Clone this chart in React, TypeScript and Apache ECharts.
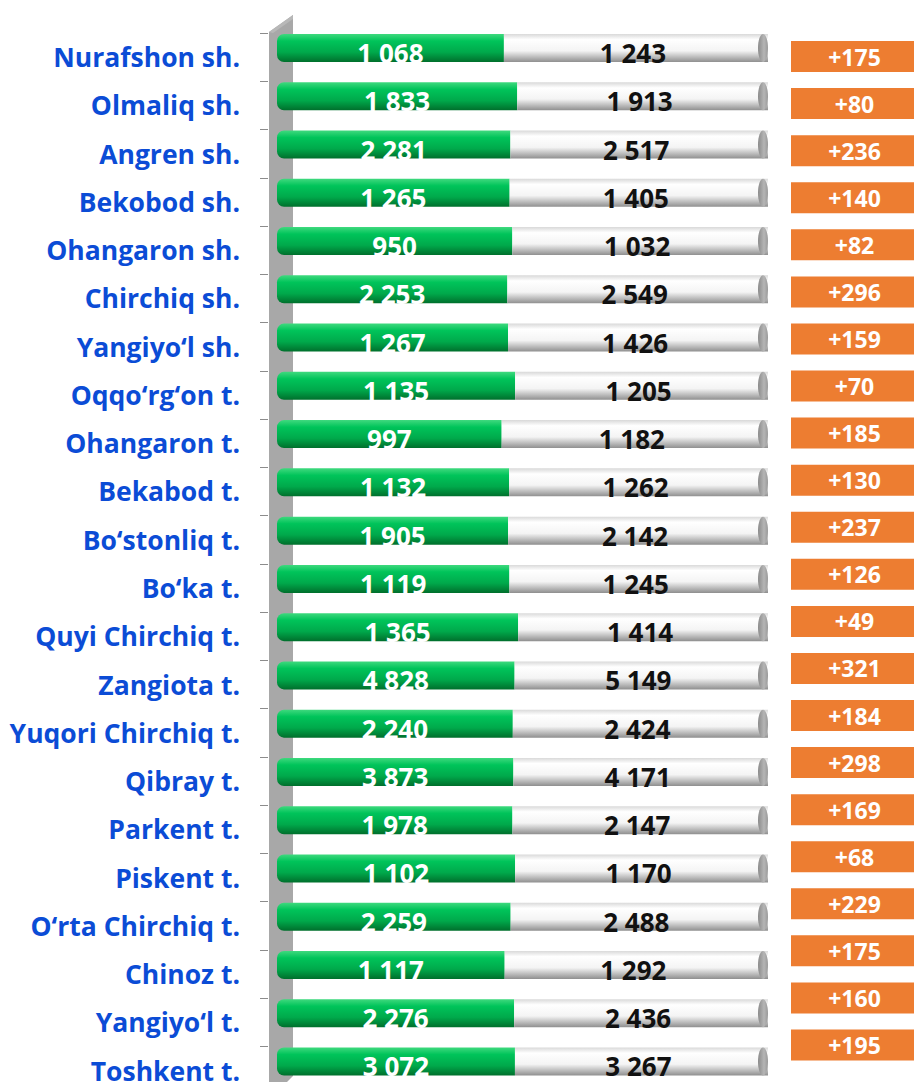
import React, { useEffect, useRef } from "react";
import * as echarts from "echarts";

const categories = [
  "Nurafshon sh.", "Olmaliq sh.", "Angren sh.", "Bekobod sh.", "Ohangaron sh.", "Chirchiq sh.",
  "Yangiyo‘l sh.", "Oqqo‘rg‘on t.", "Ohangaron t.", "Bekabod t.", "Bo‘stonliq t.", "Bo‘ka t.",
  "Quyi Chirchiq t.", "Zangiota t.", "Yuqori Chirchiq t.", "Qibray t.", "Parkent t.", "Piskent t.",
  "O‘rta Chirchiq t.", "Chinoz t.", "Yangiyo‘l t.", "Toshkent t.",
];
const before = [1068, 1833, 2281, 1265, 950, 2253, 1267, 1135, 997, 1132, 1905, 1119, 1365, 4828, 2240, 3873, 1978, 1102, 2259, 1117, 2276, 3072];
const after = [1243, 1913, 2517, 1405, 1032, 2549, 1426, 1205, 1182, 1262, 2142, 1245, 1414, 5149, 2424, 4171, 2147, 1170, 2488, 1292, 2436, 3267];
const growth = [175, 80, 236, 140, 82, 296, 159, 70, 185, 130, 237, 126, 49, 321, 184, 298, 169, 68, 229, 175, 160, 195];

const fmt = (v: number) => String(v).replace(/\B(?=(\d{3})+(?!\d))/g, " ");
const FONT = "'Open Sans', 'Noto Sans', sans-serif";

export default function App() {
  const ref = useRef<HTMLDivElement>(null);
  useEffect(() => {
    if (!ref.current) return;
    const chart = echarts.init(ref.current, null, { renderer: "svg" });
    const band = 48.26;
    const n = categories.length;
    const greenShare = before.map((v, i) => v / (v + after[i]));
    const whiteShare = after.map((v, i) => v / (before[i] + v));

    const greenGrad = new echarts.graphic.LinearGradient(0, 0, 0, 1, [
      { offset: 0, color: "#3fd97e" },
      { offset: 0.25, color: "#00c45a" },
      { offset: 0.65, color: "#00a94b" },
      { offset: 1, color: "#006f2c" },
    ]);
    const whiteGrad = new echarts.graphic.LinearGradient(0, 0, 0, 1, [
      { offset: 0, color: "#d9d9d9" },
      { offset: 0.2, color: "#ffffff" },
      { offset: 0.6, color: "#f4f4f4" },
      { offset: 1, color: "#8f8f8f" },
    ]);

    chart.setOption({
      animation: false,
      graphic: [
        {
          type: "polygon",
          z: 0,
          shape: { points: [[269, 32], [293, 15], [293, 1076], [287, 1082], [269, 1082]] },
          style: { fill: "#a8a8a8" },
        },
        {
          type: "polygon",
          z: 0,
          shape: { points: [[269, 32], [293, 15], [293, 19], [273, 33]] },
          style: { fill: "#b8b8b8" },
        },
      ],
      grid: [
        { left: 277, width: 491, top: 23.9, height: band * n },
        { left: 268, width: 1, top: 33, height: band * n },
        { left: 791, right: 0, top: 33, height: 47.07 * n },
      ],
      xAxis: [
        { type: "value", gridIndex: 0, min: 0, max: 1, show: false },
        { type: "value", gridIndex: 1, min: 0, max: 1, show: false },
        { type: "value", gridIndex: 2, min: 0, max: 1, show: false },
      ],
      yAxis: [
        { type: "category", gridIndex: 0, data: categories, inverse: true, show: false },
        {
          type: "category",
          gridIndex: 1,
          data: categories,
          inverse: true,
          axisLine: { show: false },
          axisTick: { show: true, length: 8, lineStyle: { color: "#8c8c8c" } },
          axisLabel: {
            margin: 28,
            color: "#0b4cd6",
            fontFamily: FONT,
            fontWeight: "bold",
            fontSize: 26.5,
          },
        },
        { type: "category", gridIndex: 2, data: categories, inverse: true, show: false },
      ],
      series: [
        {
          type: "bar",
          name: "before",
          stack: "s",
          xAxisIndex: 0,
          yAxisIndex: 0,
          barWidth: 28,
          data: greenShare,
          itemStyle: { color: greenGrad, borderRadius: [7, 0, 0, 7] },
          label: {
            show: true,
            position: "inside",
            offset: [0, 5],
            formatter: (p: any) => fmt(before[p.dataIndex]),
            color: "#ffffff",
            fontFamily: FONT,
            fontWeight: "bold",
            fontSize: 26,
          },
          z: 3,
        },
        {
          type: "bar",
          name: "after",
          stack: "s",
          xAxisIndex: 0,
          yAxisIndex: 0,
          barWidth: 28,
          data: whiteShare,
          itemStyle: { color: whiteGrad },
          label: {
            show: true,
            position: "inside",
            offset: [-3, 5],
            formatter: (p: any) => fmt(after[p.dataIndex]),
            color: "#111111",
            fontFamily: FONT,
            fontWeight: "bold",
            fontSize: 26,
          },
          z: 3,
        },
        {
          type: "custom",
          xAxisIndex: 0,
          yAxisIndex: 0,
          data: categories.map((_, i) => [1, i]),
          z: 4,
          renderItem: (params: any, api: any) => {
            const p = api.coord([api.value(0), api.value(1)]);
            return {
              type: "ellipse",
              shape: { cx: p[0] - 5, cy: p[1], rx: 5, ry: 14 },
              style: {
                fill: new echarts.graphic.LinearGradient(0, 0, 1, 0, [
                  { offset: 0, color: "#8a8a8a" },
                  { offset: 0.6, color: "#b5b5b5" },
                  { offset: 1, color: "#9a9a9a" },
                ]),
              },
            };
          },
        },
        {
          type: "bar",
          name: "growth",
          xAxisIndex: 2,
          yAxisIndex: 2,
          barWidth: 31,
          data: growth.map(() => 1),
          itemStyle: { color: "#ed7d31" },
          label: {
            show: true,
            position: "inside",
            offset: [2, 0],
            formatter: (p: any) => "+" + growth[p.dataIndex],
            color: "#ffffff",
            fontFamily: FONT,
            fontWeight: "bold",
            fontSize: 23,
          },
        },
      ],
    });
    return () => chart.dispose();
  }, []);
  return (
    <div
      ref={ref}
      style={{ position: "fixed", left: 0, top: 0, width: 914, height: 1120, background: "#ffffff" }}
    />
  );
}
